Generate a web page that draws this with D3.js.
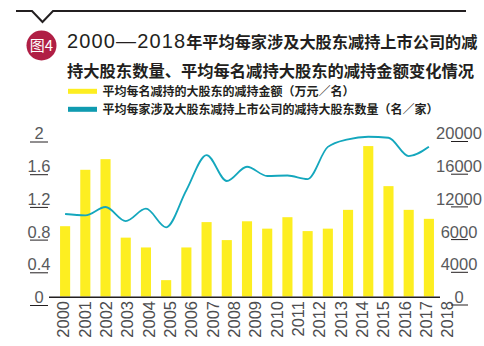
<!DOCTYPE html>
<html>
<head>
<meta charset="utf-8">
<script src="https://cdn.jsdelivr.net/npm/d3@7"></script>
<style>
  body { margin: 0; background: #fff; }
  .tick-font { font-family: "Liberation Sans Narrow", "Arial Narrow", "Liberation Sans", sans-serif; }
  .cjk { font-family: "Noto Sans CJK SC", sans-serif; }
</style>
</head>
<body>
<div id="chart"></div>
<script>
// years on the x axis
const years = ["2000", "2001", "2002", "2003", "2004", "2005", "2006", "2007", "2008", "2009",
  "2010", "2011", "2012", "2013", "2014", "2015", "2016", "2017", "2018"];

// average amount sold per major shareholder (万元/名) -> bars, left axis
const amountPerHolder = [0.86, 1.55, 1.68, 0.72, 0.60, 0.20, 0.60, 0.91, 0.69, 0.92,
  0.83, 0.97, 0.80, 0.83, 1.06, 1.84, 1.35, 1.06, 0.95];

// average number of selling holders per company (名/家) -> line, right axis
const holdersPerCompany = [10090, 9930, 10950, 9230, 10740, 8460, 13000, 17300, 14130, 15870,
  14740, 14800, 14370, 18300, 19230, 19540, 19420, 17180, 18320];

// axis ticks and the labels printed next to them
const leftTicks = [0, 0.4, 0.8, 1.2, 1.6, 2];
const leftLabels = ["0", "0.4", "0.8", "1.2", "1.6", "2"];
const rightTicks = [0, 4000, 8000, 12000, 16000, 20000];
const rightLabels = ["0", "4000", "6000", "12000", "16000", "20000"];

const titleYears = "2000—2018";
const titleLine1 = "年平均每家涉及大股东减持上市公司的减";
const titleLine2 = "持大股东数量、平均每名减持大股东的减持金额变化情况";
const legendNames = ["平均每名减持的大股东的减持金额（万元／名）",
  "平均每家涉及大股东减持上市公司的减持大股东数量（名／家）"];

const width = 484, height = 346;
const barColour = "#fdee21", lineColour = "#14a7bd", legendLineColour = "#0f9bb0";

const svg = d3.select("#chart")
  .append("svg")
    .attr("width", width)
    .attr("height", height);

svg.append("rect").attr("width", width).attr("height", height).attr("fill", "#fff");

// header rule with the little notch
svg.append("path")
  .attr("d", "M16,11 H32 L42.5,22 L53,11 H466")
  .attr("fill", "none")
  .attr("stroke", "#231f20")
  .attr("stroke-width", 2);

// figure badge
svg.append("circle")
  .attr("cx", 41.5).attr("cy", 45.5).attr("r", 15)
  .attr("fill", "#b01f45");
svg.append("text")
  .attr("class", "cjk")
  .attr("x", 41.5).attr("y", 51)
  .attr("text-anchor", "middle")
  .attr("font-size", 15)
  .attr("fill", "#fff")
  .text("图4");

// title, two lines
const t1 = svg.append("text")
  .attr("x", 67).attr("y", 47.5)
  .attr("fill", "#231f20");
t1.append("tspan")
  .attr("font-family", "Liberation Sans, sans-serif")
  .attr("font-size", 20)
  .attr("textLength", 118)
  .text(titleYears);
t1.append("tspan")
  .attr("class", "cjk")
  .attr("font-size", 16.2)
  .attr("font-weight", "bold")
  .text(titleLine1);

svg.append("text")
  .attr("class", "cjk")
  .attr("x", 67).attr("y", 77)
  .attr("font-size", 16.3)
  .attr("font-weight", "bold")
  .attr("fill", "#231f20")
  .text(titleLine2);

// legend
const legendColours = [barColour, legendLineColour];
const legend = svg.selectAll(".legend-item")
  .data(legendNames)
  .enter().append("g")
    .attr("class", "legend-item")
    .attr("transform", (d, i) => `translate(68, ${91.3 + i * 18})`);
legend.append("rect")
  .attr("x", 0).attr("y", -2.5)
  .attr("width", 29).attr("height", 5)
  .attr("fill", (d, i) => legendColours[i]);
legend.append("text")
  .attr("class", "cjk")
  .attr("x", 34.5).attr("y", 4.3)
  .attr("font-size", 12)
  .attr("font-weight", "bold")
  .attr("fill", "#231f20")
  .text(d => d);

// scales
const x = d3.scaleBand()
  .domain(years)
  .range([55, 439])
  .paddingInner(0.5)
  .paddingOuter(0.25);

// year labels are spread a bit wider than the bars
const xLabel = d3.scalePoint()
  .domain(years)
  .range([63, 447]);

const yLeft = d3.scaleLinear().domain([0, 2]).range([296.5, 133]);
const yRight = d3.scaleLinear().domain([0, 20000]).range([296.5, 133]);

// bars
svg.append("g")
  .selectAll("rect")
  .data(amountPerHolder)
  .enter().append("rect")
    .attr("x", (d, i) => x(years[i]))
    .attr("y", d => yLeft(d))
    .attr("width", x.bandwidth())
    .attr("height", d => yLeft(0) - yLeft(d))
    .attr("fill", barColour);

// line
const line = d3.line()
  .x((d, i) => x(years[i]) + x.bandwidth() / 2)
  .y(d => yRight(d))
  .curve(d3.curveMonotoneX);

svg.append("path")
  .datum(holdersPerCompany)
  .attr("d", line)
  .attr("fill", "none")
  .attr("stroke", lineColour)
  .attr("stroke-width", 1.8);

// baseline
svg.append("line")
  .attr("x1", 49).attr("x2", 440)
  .attr("y1", 297.3).attr("y2", 297.3)
  .attr("stroke", "#231f20")
  .attr("stroke-width", 1.5);

// x axis labels (rotated)
const xAxis = svg.append("g")
  .attr("transform", "translate(0, 301)")
  .call(d3.axisBottom(xLabel).tickSize(0).tickPadding(0));
xAxis.select(".domain").remove();
xAxis.selectAll("text")
  .attr("class", "tick-font")
  .attr("font-size", 16.5)
  .attr("fill", "#4d4d4f")
  .attr("text-anchor", "end")
  .attr("transform", "rotate(-90)")
  .attr("x", 0).attr("y", 0)
  .attr("dy", "0.36em");

// left axis: centred labels with a short rule under each
function styleAxis(g, cx, underline, rx) {
  g.select(".domain").remove();
  g.selectAll(".tick text")
    .attr("class", "tick-font")
    .attr("font-size", 16.5)
    .attr("fill", "#58595b")
    .attr("text-anchor", "middle")
    .attr("x", cx)
    .attr("dy", "0.36em");
  g.selectAll(".tick").append("line")
    .attr("x1", rx[0]).attr("x2", rx[1])
    .attr("y1", underline).attr("y2", underline)
    .attr("stroke", "#231f20")
    .attr("stroke-width", 1);
}

const leftAxis = svg.append("g")
  .call(d3.axisLeft(yLeft).tickValues(leftTicks)
    .tickFormat((d, i) => leftLabels[i]).tickSize(0));
styleAxis(leftAxis, 39, 8.5, [30, 48]);

const rightAxis = svg.append("g")
  .call(d3.axisRight(yRight).tickValues(rightTicks)
    .tickFormat((d, i) => rightLabels[i]).tickSize(0));
styleAxis(rightAxis, 459, 8, [451, 468]);
</script>
</body>
</html>
